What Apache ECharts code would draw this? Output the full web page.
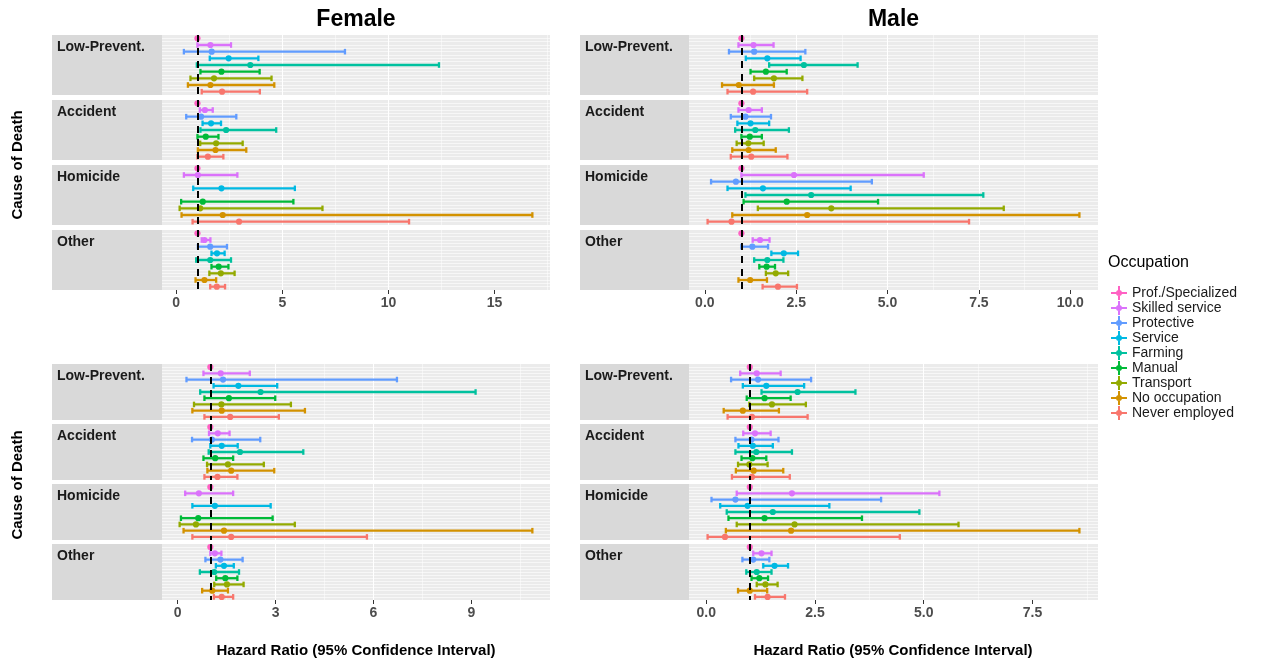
<!DOCTYPE html>
<html>
<head>
<meta charset="utf-8">
<script src="https://cdn.jsdelivr.net/npm/echarts@6/dist/echarts.min.js"></script>
<style>
html, body { margin: 0; padding: 0; background: #ffffff; }
#chart { width: 1262px; height: 667px; }
</style>
</head>
<body>
<div id="chart"></div>
<script>
// Occupation groups, top row of each facet first
const occupations = ['Prof./Specialized', 'Skilled service', 'Protective', 'Service', 'Farming',
  'Manual', 'Transport', 'No occupation', 'Never employed'];
const occupationColors = ['#FF61C3', '#DB72FB', '#619CFF', '#00B9E3', '#00C19F',
  '#00BA38', '#93AA00', '#D39200', '#F8766D'];
const causes = ['Low-Prevent.', 'Accident', 'Homicide', 'Other'];

// Each row: [lower 95% CI, hazard ratio, upper 95% CI]; reference group has no interval; null = not estimated
const femaleUpperLowPrevent = [[null, 1, null], [1.00, 1.61, 2.58], [0.36, 1.67, 7.95], [1.58, 2.47, 3.87], [0.97, 3.49, 12.38], [1.14, 2.13, 3.93], [0.67, 1.78, 4.49], [0.55, 1.61, 4.62], [1.20, 2.16, 3.94]];
const femaleUpperAccident = [[null, 1, null], [1.11, 1.35, 1.72], [0.47, 1.17, 2.83], [1.24, 1.64, 2.11], [1.14, 2.35, 4.71], [1.00, 1.39, 1.99], [1.13, 1.88, 3.13], [1.02, 1.85, 3.30], [1.00, 1.49, 2.22]];
const femaleUpperHomicide = [[null, 1, null], [0.36, 1.02, 2.88], null, [0.80, 2.13, 5.59], null, [0.23, 1.25, 5.52], [0.16, 1.13, 6.89], [0.25, 2.19, 16.78], [0.77, 2.96, 10.97]];
const femaleUpperOther = [[null, 1, null], [1.20, 1.33, 1.61], [1.02, 1.60, 2.39], [1.66, 1.92, 2.28], [0.94, 1.60, 2.58], [1.66, 2.00, 2.46], [1.56, 2.10, 2.75], [0.91, 1.33, 1.88], [1.60, 1.91, 2.30]];

const maleUpperLowPrevent = [[null, 1, null], [0.92, 1.33, 1.88], [0.66, 1.35, 2.75], [1.12, 1.71, 2.62], [1.76, 2.71, 4.18], [1.25, 1.67, 2.24], [1.35, 1.89, 2.67], [0.47, 0.93, 1.89], [0.62, 1.32, 2.80]];
const maleUpperAccident = [[null, 1, null], [0.92, 1.20, 1.56], [0.71, 1.11, 1.81], [0.89, 1.25, 1.76], [0.83, 1.38, 2.30], [1.00, 1.23, 1.56], [0.87, 1.19, 1.61], [0.75, 1.20, 1.94], [0.71, 1.27, 2.26]];
const maleUpperHomicide = [[null, 1, null], [1.00, 2.44, 5.99], [0.17, 0.85, 4.57], [0.62, 1.59, 3.99], [1.11, 2.91, 7.62], [1.06, 2.24, 4.74], [1.45, 3.46, 8.18], [0.75, 2.80, 10.25], [0.075, 0.73, 7.23]];
const maleUpperOther = [[null, 1, null], [1.31, 1.51, 1.77], [1.00, 1.30, 1.73], [1.82, 2.16, 2.55], [1.35, 1.71, 2.15], [1.49, 1.69, 1.92], [1.67, 1.94, 2.28], [0.92, 1.24, 1.70], [1.58, 2.00, 2.52]];

const femaleLowerLowPrevent = [[null, 1, null], [0.79, 1.32, 2.21], [0.27, 1.39, 6.72], [1.10, 1.86, 3.05], [0.69, 2.54, 9.13], [0.82, 1.57, 2.99], [0.50, 1.34, 3.47], [0.45, 1.35, 3.90], [0.82, 1.61, 3.10]];
const femaleLowerAccident = [[null, 1, null], [0.96, 1.23, 1.59], [0.44, 1.05, 2.53], [1.00, 1.35, 1.84], [0.95, 1.91, 3.85], [0.79, 1.15, 1.70], [0.90, 1.54, 2.64], [0.91, 1.64, 2.96], [0.82, 1.22, 1.83]];
const femaleLowerHomicide = [[null, 1, null], [0.23, 0.65, 1.70], null, [0.45, 1.14, 2.85], null, [0.10, 0.63, 2.91], [0.06, 0.56, 3.59], [0.18, 1.42, 10.87], [0.45, 1.64, 5.80]];
const femaleLowerOther = [[null, 1, null], [1.00, 1.14, 1.34], [0.85, 1.31, 1.99], [1.17, 1.42, 1.72], [0.68, 1.12, 1.88], [1.18, 1.46, 1.83], [1.12, 1.51, 2.02], [0.75, 1.06, 1.54], [1.11, 1.35, 1.70]];

const maleLowerLowPrevent = [[null, 1, null], [0.78, 1.16, 1.71], [0.57, 1.19, 2.41], [0.84, 1.38, 2.25], [1.27, 2.10, 3.43], [0.93, 1.34, 1.94], [0.99, 1.51, 2.29], [0.40, 0.84, 1.67], [0.49, 1.05, 2.33]];
const maleLowerAccident = [[null, 1, null], [0.85, 1.12, 1.48], [0.67, 1.04, 1.66], [0.74, 1.07, 1.53], [0.67, 1.15, 1.97], [0.81, 1.06, 1.38], [0.73, 0.99, 1.41], [0.68, 1.09, 1.77], [0.59, 1.05, 1.92]];
const maleLowerHomicide = [[null, 1, null], [0.70, 1.97, 5.36], [0.12, 0.67, 4.02], [0.32, 0.95, 2.83], [0.47, 1.53, 4.90], [0.51, 1.34, 3.58], [0.70, 2.03, 5.80], [0.45, 1.95, 8.58], [0.03, 0.43, 4.45]];
const maleLowerOther = [[null, 1, null], [1.08, 1.27, 1.50], [0.83, 1.08, 1.45], [1.31, 1.57, 1.88], [0.92, 1.16, 1.50], [1.04, 1.22, 1.42], [1.16, 1.36, 1.64], [0.73, 1.00, 1.40], [1.12, 1.41, 1.81]];

// Axis tick values and their printed labels
const femaleUpperTicks = [0, 5, 10, 15];
const femaleUpperTickLabels = ['0', '5', '10', '15'];
const maleUpperTicks = [0, 2.5, 5, 7.5, 10];
const maleUpperTickLabels = ['0.0', '2.5', '5.0', '7.5', '10.0'];
const femaleLowerTicks = [0, 3, 6, 9];
const femaleLowerTickLabels = ['0', '3', '6', '9'];
const maleLowerTicks = [0, 2.5, 5, 7.5];
const maleLowerTickLabels = ['0.0', '2.5', '5.0', '7.5'];

const referenceRatio = 1;

const FONT = '"Liberation Sans", Arial, sans-serif';

// Layout of the four panels (each holds one facet per cause of death)
const panels = [
  { title: 'Female', facets: [femaleUpperLowPrevent, femaleUpperAccident, femaleUpperHomicide, femaleUpperOther],
    ticks: femaleUpperTicks, tickLabels: femaleUpperTickLabels, step: 5,
    left: 162, width: 388, stripLeft: 52, tops: [35, 100, 165, 230], height: 60 },
  { title: 'Male', facets: [maleUpperLowPrevent, maleUpperAccident, maleUpperHomicide, maleUpperOther],
    ticks: maleUpperTicks, tickLabels: maleUpperTickLabels, step: 2.5,
    left: 689, width: 409, stripLeft: 580, tops: [35, 100, 165, 230], height: 60 },
  { facets: [femaleLowerLowPrevent, femaleLowerAccident, femaleLowerHomicide, femaleLowerOther],
    ticks: femaleLowerTicks, tickLabels: femaleLowerTickLabels, step: 3,
    left: 162, width: 388, stripLeft: 52, tops: [364, 424, 484, 544], height: 56 },
  { facets: [maleLowerLowPrevent, maleLowerAccident, maleLowerHomicide, maleLowerOther],
    ticks: maleLowerTicks, tickLabels: maleLowerTickLabels, step: 2.5,
    left: 689, width: 409, stripLeft: 580, tops: [364, 424, 484, 544], height: 56 }
];

// One error bar: horizontal interval with end caps and a point at the estimate
function renderInterval(params, api) {
  const row = api.value(0);
  const lo = api.value(1), est = api.value(2), hi = api.value(3);
  const color = api.visual('color');
  const children = [];
  if (isFinite(lo) && isFinite(hi) && lo !== null && hi !== null) {
    const a = api.coord([lo, row]);
    const b = api.coord([hi, row]);
    children.push({ type: 'line', shape: { x1: a[0], y1: a[1], x2: b[0], y2: b[1] },
      style: { stroke: color, lineWidth: 2.3 } });
    [a, b].forEach(function (p) {
      children.push({ type: 'line', shape: { x1: p[0], y1: p[1] - 2.8, x2: p[0], y2: p[1] + 2.8 },
        style: { stroke: color, lineWidth: 2.3 } });
    });
  }
  const c = api.coord([est, row]);
  children.push({ type: 'circle', shape: { cx: c[0], cy: c[1], r: 3.1 }, style: { fill: color } });
  return { type: 'group', children: children };
}

const grids = [], xAxes = [], yAxes = [], series = [], graphics = [];

panels.forEach(function (p) {
  const values = [];
  p.facets.forEach(function (rows) {
    rows.forEach(function (r) { if (r) r.forEach(function (v) { if (v !== null) values.push(v); }); });
  });
  const lo = Math.min.apply(null, values), hi = Math.max.apply(null, values);
  const pad = (hi - lo) * 0.05;
  const xmin = lo - pad, xmax = hi + pad;

  p.facets.forEach(function (rows, fi) {
    const gi = grids.length;
    const top = p.tops[fi];
    const isBottom = fi === p.facets.length - 1;
    grids.push({ left: p.left, top: top, width: p.width, height: p.height,
      show: true, backgroundColor: '#EBEBEB', borderWidth: 0 });
    xAxes.push({
      type: 'value', gridIndex: gi, position: 'bottom', min: xmin, max: xmax,
      minInterval: p.step, maxInterval: p.step,
      axisLine: { show: false, onZero: false },
      axisTick: { show: isBottom, length: 4, customValues: p.ticks, lineStyle: { color: '#333333', width: 1 } },
      axisLabel: {
        show: isBottom, customValues: p.ticks, margin: 6, color: '#4D4D4D',
        fontSize: 14, fontWeight: 'bold', fontFamily: FONT,
        formatter: function (v) {
          const i = p.ticks.findIndex(function (t) { return Math.abs(t - v) < 1e-6; });
          return i >= 0 ? p.tickLabels[i] : '';
        }
      },
      splitLine: { show: true, showMinLine: false, showMaxLine: false, lineStyle: { color: '#FFFFFF', width: 1.1 } },
      minorTick: { show: false, splitNumber: 2 },
      minorSplitLine: { show: true, lineStyle: { color: '#FFFFFF', width: 0.5 } }
    });
    // rows are placed at 0..8 (top to bottom), with gridlines every half row
    yAxes.push({
      type: 'value', gridIndex: gi, min: -0.5, max: occupations.length - 0.5, interval: 0.5, inverse: true,
      axisLine: { show: false, onZero: false }, axisTick: { show: false }, axisLabel: { show: false },
      splitLine: { show: true, showMinLine: false, showMaxLine: false, lineStyle: { color: '#FFFFFF', width: 0.6 } }
    });

    // reference line at HR = 1
    series.push({
      type: 'line', name: 'ref-' + gi, xAxisIndex: gi, yAxisIndex: gi, data: [], silent: true, z: 6,
      markLine: {
        silent: true, symbol: ['none', 'none'], label: { show: false }, animation: false,
        lineStyle: { color: '#000000', type: [7, 6], width: 2 },
        emphasis: { disabled: true },
        data: [{ xAxis: referenceRatio }]
      }
    });

    occupations.forEach(function (occ, oi) {
      const r = rows[oi];
      series.push({
        type: 'custom', name: occ, xAxisIndex: gi, yAxisIndex: gi, z: 3, silent: true,
        itemStyle: { color: occupationColors[oi] },
        encode: { x: [1, 2, 3], y: 0 },
        data: r ? [[oi, r[0], r[1], r[2]]] : [],
        renderItem: renderInterval
      });
    });

    // facet strip on the left
    graphics.push({
      type: 'rect', left: p.stripLeft, top: top, silent: true,
      shape: { width: p.left - p.stripLeft, height: p.height },
      style: { fill: '#D9D9D9' }
    });
    graphics.push({
      type: 'text', left: p.stripLeft + 5, top: top + 5, silent: true,
      style: { text: causes[fi], font: 'bold 14px ' + FONT, fill: '#1A1A1A' }
    });
  });

  if (p.title) {
    graphics.push({
      type: 'text', x: p.left + p.width / 2, y: 20, silent: true,
      style: { text: p.title, font: 'bold 23px ' + FONT, fill: '#000000', textAlign: 'center', textVerticalAlign: 'middle' }
    });
  }
});

// axis titles
[[356, 651], [893, 651]].forEach(function (pos) {
  graphics.push({
    type: 'text', x: pos[0], y: pos[1], silent: true,
    style: { text: 'Hazard Ratio (95% Confidence Interval)', font: 'bold 15px ' + FONT, fill: '#000000',
      textAlign: 'center', textVerticalAlign: 'middle' }
  });
});
[165, 485].forEach(function (cy) {
  graphics.push({
    type: 'text', x: 18, y: cy, rotation: Math.PI / 2, silent: true,
    style: { text: 'Cause of Death', font: 'bold 15px ' + FONT, fill: '#000000',
      textAlign: 'center', textVerticalAlign: 'middle' }
  });
});
graphics.push({
  type: 'text', left: 1108, top: 255, silent: true,
  style: { text: 'Occupation', font: '16px ' + FONT, fill: '#000000' }
});

const plusIcon = 'path://M0,6H16V8H0Z M7,0H9V14H7Z M11,7A3,3,0,1,1,5,7A3,3,0,1,1,11,7Z';

const chart = echarts.init(document.getElementById('chart'), null, { renderer: 'canvas' });
chart.setOption({
  animation: false,
  backgroundColor: '#FFFFFF',
  textStyle: { fontFamily: FONT },
  grid: grids,
  xAxis: xAxes,
  yAxis: yAxes,
  legend: {
    data: occupations.map(function (n) { return { name: n, icon: plusIcon }; }),
    orient: 'vertical', left: 1106, top: 281,
    itemWidth: 16, itemHeight: 14, itemGap: 1, selectedMode: false,
    textStyle: { fontSize: 14, color: '#1A1A1A', fontFamily: FONT }
  },
  graphic: graphics,
  series: series
});
</script>
</body>
</html>
